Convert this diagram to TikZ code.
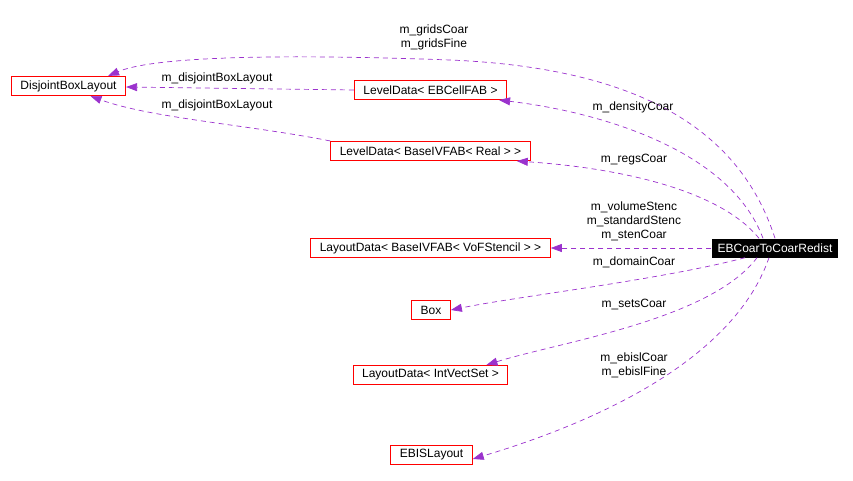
\documentclass[tikz,border=0pt]{standalone}
\usepackage{fontspec}
\setmainfont{Liberation Sans}
\usetikzlibrary{arrows.meta}
\definecolor{edgepurple}{RGB}{155,50,205}
\definecolor{boxred}{RGB}{255,0,0}

\begin{document}
\begin{tikzpicture}[x=1pt,y=-1pt,>=Stealth,
  font=\fontsize{12}{14}\selectfont,
  cls/.style={draw=boxred,line width=1.1pt,fill=white,minimum height=19pt,inner xsep=9pt,inner ysep=0pt},
  member/.style={edgepurple,dash pattern=on 5pt off 4pt,line width=0.7pt,-{Triangle[length=11pt,width=8pt]}},
  lbl/.style={align=center,inner sep=1pt}]
  \useasboundingbox (0,0) rectangle (853,481);
  % classes
  \node[cls] (dbl) at (68.5,86) {DisjointBoxLayout};
  \node[cls] (ldcell) at (430.5,90) {LevelData< EBCellFAB >};
  \node[cls] (ldreal) at (430.5,151) {LevelData< BaseIVFAB< Real > >};
  \node[cls] (ldsten) at (430.5,248) {LayoutData< BaseIVFAB< VoFStencil > >};
  \node[cls] (box) at (431,310) {Box};
  \node[cls] (ldivs) at (430.5,375) {LayoutData< IntVectSet >};
  \node[cls] (ebisl) at (431.5,455) {EBISLayout};
  \node[fill=black,text=white,minimum height=19pt,inner xsep=6pt,inner ysep=0pt] (redist) at (775,248) {EBCoarToCoarRedist};
  % members
  \draw[member] (redist.north) .. controls (740,130) and (640,68) .. (450,60)
    .. controls (260,53) and (150,58) .. ([xshift=-18pt]dbl.north east);
  \draw[member] ([xshift=-12pt]redist.north) .. controls (730,150) and (600,112) .. ([xshift=-8pt]ldcell.south east);
  \draw[member] ([xshift=-16pt]redist.north) .. controls (720,190) and (620,168) .. ([xshift=-14pt]ldreal.south east);
  \draw[member] (redist.west) -- (ldsten.east);
  \draw[member] ([xshift=-30pt]redist.south) .. controls (660,280) and (520,296) .. (box.east);
  \draw[member] ([xshift=-18pt]redist.south) .. controls (710,320) and (560,342) .. ([xshift=-22pt]ldivs.north east);
  \draw[member] ([xshift=-6pt]redist.south) .. controls (730,370) and (570,430) .. ([yshift=-4pt]ebisl.east);
  \draw[member] (ldcell.west) -- ([yshift=-1pt]dbl.east);
  \draw[member] (ldreal.north west) .. controls (250,125) and (150,118) .. ([xshift=22pt]dbl.south);
  % labels
  \node[lbl] (l1) at (434,37) {m\_gridsCoar\\m\_gridsFine};
  \node[lbl] (l2) at (217,78) {m\_disjointBoxLayout};
  \node[lbl] (l3) at (217,105) {m\_disjointBoxLayout};
  \node[lbl] (l4) at (633,107) {m\_densityCoar};
  \node[lbl] (l5) at (634,160) {m\_regsCoar};
  \node[lbl] (l6) at (634,221) {m\_volumeStenc\\m\_standardStenc\\m\_stenCoar};
  \node[lbl] (l7) at (634,262) {m\_domainCoar};
  \node[lbl] (l8) at (634,305) {m\_setsCoar};
  \node[lbl] (l9) at (634,365) {m\_ebislCoar\\m\_ebislFine};
\end{tikzpicture}
\end{document}
